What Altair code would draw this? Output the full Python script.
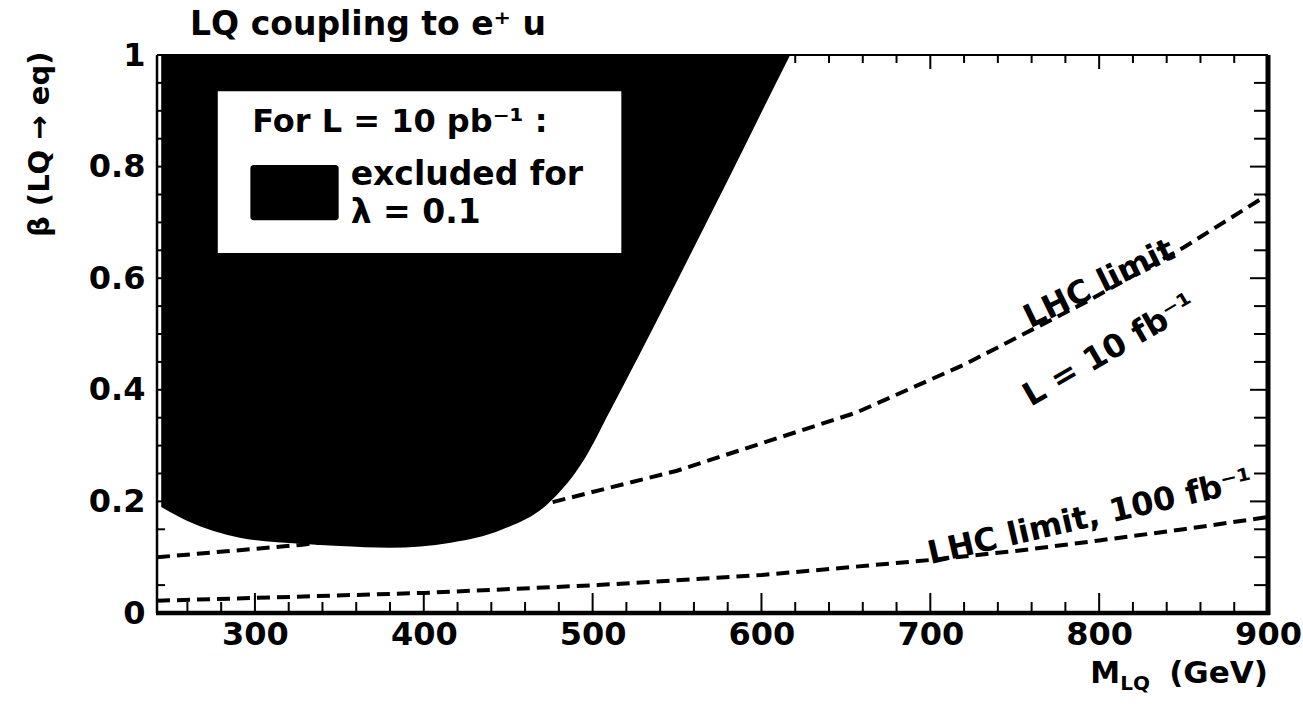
import altair as alt
import pandas as pd

# Lower edge of the region excluded for lambda = 0.1 (M_LQ in GeV, beta)
excl_mass = [244.5, 260, 291, 327, 350, 380, 416, 446, 474, 495, 510, 534, 560, 580, 598, 617]
excl_beta = [0.19, 0.165, 0.135, 0.124, 0.12, 0.117, 0.126, 0.149, 0.197, 0.275, 0.36, 0.5, 0.655, 0.775, 0.885, 1.0]

# LHC reach, 10 fb^-1
lhc10_mass = [242, 250, 300, 327, 400, 474, 550, 656, 720, 792, 850, 900]
lhc10_beta = [0.100, 0.102, 0.115, 0.122, 0.150, 0.197, 0.255, 0.359, 0.445, 0.557, 0.655, 0.75]

# LHC reach, 100 fb^-1
lhc100_mass = [242, 300, 400, 503, 600, 700, 753, 800, 850, 900]
lhc100_beta = [0.022, 0.027, 0.036, 0.050, 0.068, 0.095, 0.112, 0.130, 0.150, 0.172]

# axis ticks
x_major = [300, 400, 500, 600, 700, 800, 900]
x_minor = [m for m in range(260, 900, 20) if m % 100 != 0]
y_major = [0, 0.2, 0.4, 0.6, 0.8, 1.0]
y_minor = [round(0.05 * i, 2) for i in range(1, 20) if i % 4 != 0]

W, H = 1111, 558
FONT = "DejaVu Sans"

x_scale = alt.Scale(domain=[242, 900], nice=False, zero=False)
y_scale = alt.Scale(domain=[0, 1], nice=False, zero=False)
x_axis = alt.Axis(values=x_major, title=None, grid=False, ticks=False, tickSize=0, domain=False,
                  labelFont=FONT, labelFontWeight="bold", labelFontSize=32, labelColor="black",
                  labelPadding=6, labelFlush=False, labelOverlap=False, labelBaseline="top")
y_axis = alt.Axis(values=y_major, format="~g", title=None, grid=False, ticks=False, tickSize=0, domain=False,
                  labelFont=FONT, labelFontWeight="bold", labelFontSize=32, labelColor="black",
                  labelPadding=12, labelFlush=False, labelOverlap=False, labelBaseline="middle")


def X(field="M"):
    return alt.X(f"{field}:Q", scale=x_scale, axis=x_axis)


def Y(field="beta"):
    return alt.Y(f"{field}:Q", scale=y_scale, axis=y_axis)


lines_df = pd.concat([
    pd.DataFrame({"M": lhc10_mass, "beta": lhc10_beta, "series": "10 fb-1"}),
    pd.DataFrame({"M": lhc100_mass, "beta": lhc100_beta, "series": "100 fb-1"}),
])
excl_df = pd.DataFrame({"M": excl_mass, "beta": excl_beta})

lhc_lines = alt.Chart(lines_df).mark_line(
    color="black", strokeWidth=4, strokeDash=[13, 7], clip=True
).encode(x=X(), y=Y(), detail="series:N")

excluded = alt.Chart(excl_df).mark_area(
    color="black", interpolate="monotone", clip=True
).encode(x=X(), y=Y(), y2=alt.datum(1.0))

# legend panel inside the plot
legend_box = alt.Chart(pd.DataFrame({"M": [278], "M2": [517], "beta": [0.645], "beta2": [0.935]})).mark_rect(
    color="white"
).encode(x=X(), x2="M2:Q", y=Y(), y2="beta2:Q")
legend_swatch = alt.Chart(pd.DataFrame({"M": [297.3], "M2": [349.6], "beta": [0.704], "beta2": [0.803]})).mark_rect(
    color="black", cornerRadius=3
).encode(x=X(), x2="M2:Q", y=Y(), y2="beta2:Q")

# inward ticks on all four sides
xt = pd.DataFrame({"M": x_major + x_minor, "major": [True] * len(x_major) + [False] * len(x_minor)})
yt = pd.DataFrame({"beta": y_major + y_minor, "major": [True] * len(y_major) + [False] * len(y_minor)})


def xticks(major, length, top):
    d = xt[xt["major"] == major]
    y0 = 0 if top else H
    y1 = length if top else H - length
    return alt.Chart(d).mark_rule(color="black", strokeWidth=2).encode(
        x=X(), y=alt.value(y0), y2=alt.value(y1))


def yticks(major, length, right):
    d = yt[yt["major"] == major]
    x0 = W if right else 0
    x1 = W - length if right else length
    return alt.Chart(d).mark_rule(color="black", strokeWidth=2).encode(
        y=Y(), x=alt.value(x0), x2=alt.value(x1))


ticks = [
    xticks(True, 20, False), xticks(False, 11, False),
    xticks(True, 14, True), xticks(False, 8, True),
    yticks(True, 12, False), yticks(False, 8, False),
    yticks(True, 18, True), yticks(False, 14, True),
]

# frame
frame = [
    alt.Chart(pd.DataFrame({"k": [0]})).mark_rule(color="black", strokeWidth=2.5).encode(
        x=alt.value(0), y=alt.value(0), y2=alt.value(H)),
    alt.Chart(pd.DataFrame({"k": [0]})).mark_rule(color="black", strokeWidth=2).encode(
        x=alt.value(0), x2=alt.value(W), y=alt.value(0)),
    alt.Chart(pd.DataFrame({"k": [0]})).mark_rule(color="black", strokeWidth=4.5).encode(
        x=alt.value(-1), x2=alt.value(W + 2), y=alt.value(H)),
    alt.Chart(pd.DataFrame({"k": [0]})).mark_rule(color="black", strokeWidth=5).encode(
        x=alt.value(W), y=alt.value(0), y2=alt.value(H + 2)),
]


def label(text, m, b, size=32, angle=0, align="center", baseline="middle", dx=0, dy=0, weight="bold"):
    return alt.Chart(pd.DataFrame({"M": [m], "beta": [b], "t": [text]})).mark_text(
        font=FONT, fontSize=size, fontWeight=weight, color="black", angle=angle,
        align=align, baseline=baseline, dx=dx, dy=dy, clip=False
    ).encode(x=X(), y=Y(), text="t:N")


texts = [
    label("LQ coupling to e⁺ u", 261.6, 1.036, size=33, align="left", baseline="alphabetic"),
    label("For L = 10 pb⁻¹ :", 298.4, 0.862, size=32, align="left", baseline="alphabetic"),
    label("excluded for", 356.7, 0.767, size=33, align="left", baseline="alphabetic"),
    label("λ = 0.1", 356.7, 0.699, size=33, align="left", baseline="alphabetic"),
    label("LHC limit", 800, 0.59, size=32, angle=334),
    label("L = 10 fb⁻¹", 806, 0.471, size=32, angle=330),
    label("LHC limit, 100 fb⁻¹", 794.6, 0.172, size=32, angle=347),
    # x-axis title: M with LQ subscript, then (GeV)
    label("(GeV)", 900, -0.1255, size=31, align="right", baseline="alphabetic"),
    label("LQ", 900, -0.1255, size=20, align="right", baseline="alphabetic", dx=-118, dy=7),
    label("M", 900, -0.1255, size=30, align="right", baseline="alphabetic", dx=-148),
    # y-axis title
    label("β (LQ → eq)", 172.5, 0.84, size=29, angle=270),
]

chart = alt.layer(
    lhc_lines, excluded, legend_box, legend_swatch, *ticks, *frame, *texts
).properties(
    width=W, height=H,
    padding={"left": 157, "top": 55, "right": 35, "bottom": 111},
    autosize=alt.AutoSizeParams(type="none"),
    background="white",
).configure_view(stroke=None)

chart.save("out.html", embed_options={"renderer": "svg", "actions": False})
